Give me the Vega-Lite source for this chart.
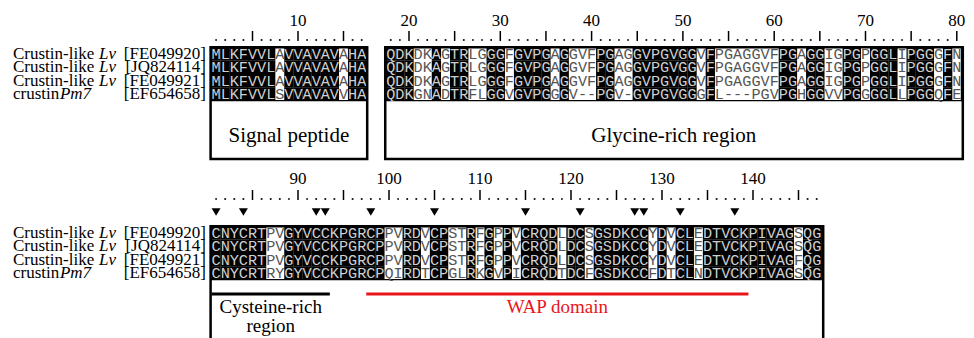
{
"$schema":"https://vega.github.io/schema/vega-lite/v6.json",
"width":974,"height":338,"padding":0,"autosize":{"type":"none"},"background":"white",
"config":{"view":{"stroke":null},"axis":{"disable":true},"legend":{"disable":true}},
"datasets":{
"seqs":[{"s":1,"name":"Crustin-like","sp":"Lv","acc":"[FE049920]"},{"s":2,"name":"Crustin-like","sp":"Lv","acc":"[JQ824114]"},{"s":3,"name":"Crustin-like","sp":"Lv","acc":"[FE049921]"},{"s":4,"name":"crustin","sp":"Pm7","acc":"[EF654658]"}],
"regions":[{"name":"Signal peptide","kind":"box","start":1,"end":17},{"name":"Glycine-rich region","kind":"box","start":18,"end":80},{"name":"","kind":"frame","start":81,"end":147},{"name":"Cysteine-rich region","kind":"domain","start":81,"end":93},{"name":"WAP domain","kind":"domain","start":98,"end":139}],
"cells":[
{"s":1,"p":1,"a":"M"},{"s":1,"p":2,"a":"L"},{"s":1,"p":3,"a":"K"},{"s":1,"p":4,"a":"F"},{"s":1,"p":5,"a":"V"},{"s":1,"p":6,"a":"V"},{"s":1,"p":7,"a":"L"},{"s":1,"p":8,"a":"A"},{"s":1,"p":9,"a":"V"},{"s":1,"p":10,"a":"V"},
{"s":1,"p":11,"a":"A"},{"s":1,"p":12,"a":"V"},{"s":1,"p":13,"a":"A"},{"s":1,"p":14,"a":"V"},{"s":1,"p":15,"a":"A"},{"s":1,"p":16,"a":"H"},{"s":1,"p":17,"a":"A"},{"s":1,"p":18,"a":"Q"},{"s":1,"p":19,"a":"D"},{"s":1,"p":20,"a":"K"},
{"s":1,"p":21,"a":"D"},{"s":1,"p":22,"a":"K"},{"s":1,"p":23,"a":"A"},{"s":1,"p":24,"a":"G"},{"s":1,"p":25,"a":"T"},{"s":1,"p":26,"a":"R"},{"s":1,"p":27,"a":"L"},{"s":1,"p":28,"a":"G"},{"s":1,"p":29,"a":"G"},{"s":1,"p":30,"a":"G"},
{"s":1,"p":31,"a":"F"},{"s":1,"p":32,"a":"G"},{"s":1,"p":33,"a":"V"},{"s":1,"p":34,"a":"P"},{"s":1,"p":35,"a":"G"},{"s":1,"p":36,"a":"A"},{"s":1,"p":37,"a":"G"},{"s":1,"p":38,"a":"G"},{"s":1,"p":39,"a":"V"},{"s":1,"p":40,"a":"F"},
{"s":1,"p":41,"a":"P"},{"s":1,"p":42,"a":"G"},{"s":1,"p":43,"a":"A"},{"s":1,"p":44,"a":"G"},{"s":1,"p":45,"a":"G"},{"s":1,"p":46,"a":"V"},{"s":1,"p":47,"a":"P"},{"s":1,"p":48,"a":"G"},{"s":1,"p":49,"a":"V"},{"s":1,"p":50,"a":"G"},
{"s":1,"p":51,"a":"G"},{"s":1,"p":52,"a":"V"},{"s":1,"p":53,"a":"F"},{"s":1,"p":54,"a":"P"},{"s":1,"p":55,"a":"G"},{"s":1,"p":56,"a":"A"},{"s":1,"p":57,"a":"G"},{"s":1,"p":58,"a":"G"},{"s":1,"p":59,"a":"V"},{"s":1,"p":60,"a":"F"},
{"s":1,"p":61,"a":"P"},{"s":1,"p":62,"a":"G"},{"s":1,"p":63,"a":"A"},{"s":1,"p":64,"a":"G"},{"s":1,"p":65,"a":"G"},{"s":1,"p":66,"a":"I"},{"s":1,"p":67,"a":"G"},{"s":1,"p":68,"a":"P"},{"s":1,"p":69,"a":"G"},{"s":1,"p":70,"a":"P"},
{"s":1,"p":71,"a":"G"},{"s":1,"p":72,"a":"G"},{"s":1,"p":73,"a":"L"},{"s":1,"p":74,"a":"I"},{"s":1,"p":75,"a":"P"},{"s":1,"p":76,"a":"G"},{"s":1,"p":77,"a":"G"},{"s":1,"p":78,"a":"G"},{"s":1,"p":79,"a":"F"},{"s":1,"p":80,"a":"N"},
{"s":2,"p":1,"a":"M"},{"s":2,"p":2,"a":"L"},{"s":2,"p":3,"a":"K"},{"s":2,"p":4,"a":"F"},{"s":2,"p":5,"a":"V"},{"s":2,"p":6,"a":"V"},{"s":2,"p":7,"a":"L"},{"s":2,"p":8,"a":"A"},{"s":2,"p":9,"a":"V"},{"s":2,"p":10,"a":"V"},
{"s":2,"p":11,"a":"A"},{"s":2,"p":12,"a":"V"},{"s":2,"p":13,"a":"A"},{"s":2,"p":14,"a":"V"},{"s":2,"p":15,"a":"A"},{"s":2,"p":16,"a":"H"},{"s":2,"p":17,"a":"A"},{"s":2,"p":18,"a":"Q"},{"s":2,"p":19,"a":"D"},{"s":2,"p":20,"a":"K"},
{"s":2,"p":21,"a":"D"},{"s":2,"p":22,"a":"K"},{"s":2,"p":23,"a":"A"},{"s":2,"p":24,"a":"G"},{"s":2,"p":25,"a":"T"},{"s":2,"p":26,"a":"R"},{"s":2,"p":27,"a":"L"},{"s":2,"p":28,"a":"G"},{"s":2,"p":29,"a":"G"},{"s":2,"p":30,"a":"G"},
{"s":2,"p":31,"a":"F"},{"s":2,"p":32,"a":"G"},{"s":2,"p":33,"a":"V"},{"s":2,"p":34,"a":"P"},{"s":2,"p":35,"a":"G"},{"s":2,"p":36,"a":"A"},{"s":2,"p":37,"a":"G"},{"s":2,"p":38,"a":"G"},{"s":2,"p":39,"a":"V"},{"s":2,"p":40,"a":"F"},
{"s":2,"p":41,"a":"P"},{"s":2,"p":42,"a":"G"},{"s":2,"p":43,"a":"A"},{"s":2,"p":44,"a":"G"},{"s":2,"p":45,"a":"G"},{"s":2,"p":46,"a":"V"},{"s":2,"p":47,"a":"P"},{"s":2,"p":48,"a":"G"},{"s":2,"p":49,"a":"V"},{"s":2,"p":50,"a":"G"},
{"s":2,"p":51,"a":"G"},{"s":2,"p":52,"a":"V"},{"s":2,"p":53,"a":"F"},{"s":2,"p":54,"a":"P"},{"s":2,"p":55,"a":"G"},{"s":2,"p":56,"a":"A"},{"s":2,"p":57,"a":"G"},{"s":2,"p":58,"a":"G"},{"s":2,"p":59,"a":"V"},{"s":2,"p":60,"a":"F"},
{"s":2,"p":61,"a":"P"},{"s":2,"p":62,"a":"G"},{"s":2,"p":63,"a":"A"},{"s":2,"p":64,"a":"G"},{"s":2,"p":65,"a":"G"},{"s":2,"p":66,"a":"I"},{"s":2,"p":67,"a":"G"},{"s":2,"p":68,"a":"P"},{"s":2,"p":69,"a":"G"},{"s":2,"p":70,"a":"P"},
{"s":2,"p":71,"a":"G"},{"s":2,"p":72,"a":"G"},{"s":2,"p":73,"a":"L"},{"s":2,"p":74,"a":"I"},{"s":2,"p":75,"a":"P"},{"s":2,"p":76,"a":"G"},{"s":2,"p":77,"a":"G"},{"s":2,"p":78,"a":"G"},{"s":2,"p":79,"a":"F"},{"s":2,"p":80,"a":"N"},
{"s":3,"p":1,"a":"M"},{"s":3,"p":2,"a":"L"},{"s":3,"p":3,"a":"K"},{"s":3,"p":4,"a":"F"},{"s":3,"p":5,"a":"V"},{"s":3,"p":6,"a":"V"},{"s":3,"p":7,"a":"L"},{"s":3,"p":8,"a":"A"},{"s":3,"p":9,"a":"V"},{"s":3,"p":10,"a":"V"},
{"s":3,"p":11,"a":"A"},{"s":3,"p":12,"a":"V"},{"s":3,"p":13,"a":"A"},{"s":3,"p":14,"a":"V"},{"s":3,"p":15,"a":"A"},{"s":3,"p":16,"a":"H"},{"s":3,"p":17,"a":"A"},{"s":3,"p":18,"a":"Q"},{"s":3,"p":19,"a":"D"},{"s":3,"p":20,"a":"K"},
{"s":3,"p":21,"a":"D"},{"s":3,"p":22,"a":"K"},{"s":3,"p":23,"a":"A"},{"s":3,"p":24,"a":"G"},{"s":3,"p":25,"a":"T"},{"s":3,"p":26,"a":"R"},{"s":3,"p":27,"a":"L"},{"s":3,"p":28,"a":"G"},{"s":3,"p":29,"a":"G"},{"s":3,"p":30,"a":"G"},
{"s":3,"p":31,"a":"F"},{"s":3,"p":32,"a":"G"},{"s":3,"p":33,"a":"V"},{"s":3,"p":34,"a":"P"},{"s":3,"p":35,"a":"G"},{"s":3,"p":36,"a":"A"},{"s":3,"p":37,"a":"G"},{"s":3,"p":38,"a":"G"},{"s":3,"p":39,"a":"V"},{"s":3,"p":40,"a":"F"},
{"s":3,"p":41,"a":"P"},{"s":3,"p":42,"a":"G"},{"s":3,"p":43,"a":"A"},{"s":3,"p":44,"a":"G"},{"s":3,"p":45,"a":"G"},{"s":3,"p":46,"a":"V"},{"s":3,"p":47,"a":"P"},{"s":3,"p":48,"a":"G"},{"s":3,"p":49,"a":"V"},{"s":3,"p":50,"a":"G"},
{"s":3,"p":51,"a":"G"},{"s":3,"p":52,"a":"V"},{"s":3,"p":53,"a":"F"},{"s":3,"p":54,"a":"P"},{"s":3,"p":55,"a":"G"},{"s":3,"p":56,"a":"A"},{"s":3,"p":57,"a":"G"},{"s":3,"p":58,"a":"G"},{"s":3,"p":59,"a":"V"},{"s":3,"p":60,"a":"F"},
{"s":3,"p":61,"a":"P"},{"s":3,"p":62,"a":"G"},{"s":3,"p":63,"a":"A"},{"s":3,"p":64,"a":"G"},{"s":3,"p":65,"a":"G"},{"s":3,"p":66,"a":"I"},{"s":3,"p":67,"a":"G"},{"s":3,"p":68,"a":"P"},{"s":3,"p":69,"a":"G"},{"s":3,"p":70,"a":"P"},
{"s":3,"p":71,"a":"G"},{"s":3,"p":72,"a":"G"},{"s":3,"p":73,"a":"L"},{"s":3,"p":74,"a":"I"},{"s":3,"p":75,"a":"P"},{"s":3,"p":76,"a":"G"},{"s":3,"p":77,"a":"G"},{"s":3,"p":78,"a":"G"},{"s":3,"p":79,"a":"F"},{"s":3,"p":80,"a":"N"},
{"s":4,"p":1,"a":"M"},{"s":4,"p":2,"a":"L"},{"s":4,"p":3,"a":"K"},{"s":4,"p":4,"a":"F"},{"s":4,"p":5,"a":"V"},{"s":4,"p":6,"a":"V"},{"s":4,"p":7,"a":"L"},{"s":4,"p":8,"a":"S"},{"s":4,"p":9,"a":"V"},{"s":4,"p":10,"a":"V"},
{"s":4,"p":11,"a":"A"},{"s":4,"p":12,"a":"V"},{"s":4,"p":13,"a":"A"},{"s":4,"p":14,"a":"V"},{"s":4,"p":15,"a":"V"},{"s":4,"p":16,"a":"H"},{"s":4,"p":17,"a":"A"},{"s":4,"p":18,"a":"Q"},{"s":4,"p":19,"a":"D"},{"s":4,"p":20,"a":"K"},
{"s":4,"p":21,"a":"G"},{"s":4,"p":22,"a":"N"},{"s":4,"p":23,"a":"A"},{"s":4,"p":24,"a":"D"},{"s":4,"p":25,"a":"T"},{"s":4,"p":26,"a":"R"},{"s":4,"p":27,"a":"F"},{"s":4,"p":28,"a":"L"},{"s":4,"p":29,"a":"G"},{"s":4,"p":30,"a":"G"},
{"s":4,"p":31,"a":"V"},{"s":4,"p":32,"a":"G"},{"s":4,"p":33,"a":"V"},{"s":4,"p":34,"a":"P"},{"s":4,"p":35,"a":"G"},{"s":4,"p":36,"a":"G"},{"s":4,"p":37,"a":"G"},{"s":4,"p":38,"a":"V"},{"s":4,"p":39,"a":"-"},{"s":4,"p":40,"a":"-"},
{"s":4,"p":41,"a":"P"},{"s":4,"p":42,"a":"G"},{"s":4,"p":43,"a":"V"},{"s":4,"p":44,"a":"-"},{"s":4,"p":45,"a":"G"},{"s":4,"p":46,"a":"V"},{"s":4,"p":47,"a":"P"},{"s":4,"p":48,"a":"G"},{"s":4,"p":49,"a":"V"},{"s":4,"p":50,"a":"G"},
{"s":4,"p":51,"a":"G"},{"s":4,"p":52,"a":"G"},{"s":4,"p":53,"a":"F"},{"s":4,"p":54,"a":"L"},{"s":4,"p":55,"a":"-"},{"s":4,"p":56,"a":"-"},{"s":4,"p":57,"a":"-"},{"s":4,"p":58,"a":"P"},{"s":4,"p":59,"a":"G"},{"s":4,"p":60,"a":"V"},
{"s":4,"p":61,"a":"P"},{"s":4,"p":62,"a":"G"},{"s":4,"p":63,"a":"H"},{"s":4,"p":64,"a":"G"},{"s":4,"p":65,"a":"G"},{"s":4,"p":66,"a":"V"},{"s":4,"p":67,"a":"V"},{"s":4,"p":68,"a":"P"},{"s":4,"p":69,"a":"G"},{"s":4,"p":70,"a":"G"},
{"s":4,"p":71,"a":"G"},{"s":4,"p":72,"a":"G"},{"s":4,"p":73,"a":"L"},{"s":4,"p":74,"a":"L"},{"s":4,"p":75,"a":"P"},{"s":4,"p":76,"a":"G"},{"s":4,"p":77,"a":"G"},{"s":4,"p":78,"a":"Q"},{"s":4,"p":79,"a":"F"},{"s":4,"p":80,"a":"E"},
{"s":1,"p":81,"a":"C"},{"s":1,"p":82,"a":"N"},{"s":1,"p":83,"a":"Y"},{"s":1,"p":84,"a":"C"},{"s":1,"p":85,"a":"R"},{"s":1,"p":86,"a":"T"},{"s":1,"p":87,"a":"P"},{"s":1,"p":88,"a":"V"},{"s":1,"p":89,"a":"G"},{"s":1,"p":90,"a":"Y"},
{"s":1,"p":91,"a":"V"},{"s":1,"p":92,"a":"C"},{"s":1,"p":93,"a":"C"},{"s":1,"p":94,"a":"K"},{"s":1,"p":95,"a":"P"},{"s":1,"p":96,"a":"G"},{"s":1,"p":97,"a":"R"},{"s":1,"p":98,"a":"C"},{"s":1,"p":99,"a":"P"},{"s":1,"p":100,"a":"P"},
{"s":1,"p":101,"a":"V"},{"s":1,"p":102,"a":"R"},{"s":1,"p":103,"a":"D"},{"s":1,"p":104,"a":"V"},{"s":1,"p":105,"a":"C"},{"s":1,"p":106,"a":"P"},{"s":1,"p":107,"a":"S"},{"s":1,"p":108,"a":"T"},{"s":1,"p":109,"a":"R"},{"s":1,"p":110,"a":"F"},
{"s":1,"p":111,"a":"G"},{"s":1,"p":112,"a":"P"},{"s":1,"p":113,"a":"P"},{"s":1,"p":114,"a":"V"},{"s":1,"p":115,"a":"C"},{"s":1,"p":116,"a":"R"},{"s":1,"p":117,"a":"Q"},{"s":1,"p":118,"a":"D"},{"s":1,"p":119,"a":"L"},{"s":1,"p":120,"a":"D"},
{"s":1,"p":121,"a":"C"},{"s":1,"p":122,"a":"S"},{"s":1,"p":123,"a":"G"},{"s":1,"p":124,"a":"S"},{"s":1,"p":125,"a":"D"},{"s":1,"p":126,"a":"K"},{"s":1,"p":127,"a":"C"},{"s":1,"p":128,"a":"C"},{"s":1,"p":129,"a":"Y"},{"s":1,"p":130,"a":"D"},
{"s":1,"p":131,"a":"V"},{"s":1,"p":132,"a":"C"},{"s":1,"p":133,"a":"L"},{"s":1,"p":134,"a":"E"},{"s":1,"p":135,"a":"D"},{"s":1,"p":136,"a":"T"},{"s":1,"p":137,"a":"V"},{"s":1,"p":138,"a":"C"},{"s":1,"p":139,"a":"K"},{"s":1,"p":140,"a":"P"},
{"s":1,"p":141,"a":"I"},{"s":1,"p":142,"a":"V"},{"s":1,"p":143,"a":"A"},{"s":1,"p":144,"a":"G"},{"s":1,"p":145,"a":"S"},{"s":1,"p":146,"a":"Q"},{"s":1,"p":147,"a":"G"},
{"s":2,"p":81,"a":"C"},{"s":2,"p":82,"a":"N"},{"s":2,"p":83,"a":"Y"},{"s":2,"p":84,"a":"C"},{"s":2,"p":85,"a":"R"},{"s":2,"p":86,"a":"T"},{"s":2,"p":87,"a":"P"},{"s":2,"p":88,"a":"V"},{"s":2,"p":89,"a":"G"},{"s":2,"p":90,"a":"Y"},
{"s":2,"p":91,"a":"V"},{"s":2,"p":92,"a":"C"},{"s":2,"p":93,"a":"C"},{"s":2,"p":94,"a":"K"},{"s":2,"p":95,"a":"P"},{"s":2,"p":96,"a":"G"},{"s":2,"p":97,"a":"R"},{"s":2,"p":98,"a":"C"},{"s":2,"p":99,"a":"P"},{"s":2,"p":100,"a":"P"},
{"s":2,"p":101,"a":"V"},{"s":2,"p":102,"a":"R"},{"s":2,"p":103,"a":"D"},{"s":2,"p":104,"a":"V"},{"s":2,"p":105,"a":"C"},{"s":2,"p":106,"a":"P"},{"s":2,"p":107,"a":"S"},{"s":2,"p":108,"a":"T"},{"s":2,"p":109,"a":"R"},{"s":2,"p":110,"a":"F"},
{"s":2,"p":111,"a":"G"},{"s":2,"p":112,"a":"P"},{"s":2,"p":113,"a":"P"},{"s":2,"p":114,"a":"V"},{"s":2,"p":115,"a":"C"},{"s":2,"p":116,"a":"R"},{"s":2,"p":117,"a":"Q"},{"s":2,"p":118,"a":"D"},{"s":2,"p":119,"a":"L"},{"s":2,"p":120,"a":"D"},
{"s":2,"p":121,"a":"C"},{"s":2,"p":122,"a":"S"},{"s":2,"p":123,"a":"G"},{"s":2,"p":124,"a":"S"},{"s":2,"p":125,"a":"D"},{"s":2,"p":126,"a":"K"},{"s":2,"p":127,"a":"C"},{"s":2,"p":128,"a":"C"},{"s":2,"p":129,"a":"Y"},{"s":2,"p":130,"a":"D"},
{"s":2,"p":131,"a":"V"},{"s":2,"p":132,"a":"C"},{"s":2,"p":133,"a":"L"},{"s":2,"p":134,"a":"E"},{"s":2,"p":135,"a":"D"},{"s":2,"p":136,"a":"T"},{"s":2,"p":137,"a":"V"},{"s":2,"p":138,"a":"C"},{"s":2,"p":139,"a":"K"},{"s":2,"p":140,"a":"P"},
{"s":2,"p":141,"a":"I"},{"s":2,"p":142,"a":"V"},{"s":2,"p":143,"a":"A"},{"s":2,"p":144,"a":"G"},{"s":2,"p":145,"a":"S"},{"s":2,"p":146,"a":"Q"},{"s":2,"p":147,"a":"G"},
{"s":3,"p":81,"a":"C"},{"s":3,"p":82,"a":"N"},{"s":3,"p":83,"a":"Y"},{"s":3,"p":84,"a":"C"},{"s":3,"p":85,"a":"R"},{"s":3,"p":86,"a":"T"},{"s":3,"p":87,"a":"P"},{"s":3,"p":88,"a":"V"},{"s":3,"p":89,"a":"G"},{"s":3,"p":90,"a":"Y"},
{"s":3,"p":91,"a":"V"},{"s":3,"p":92,"a":"C"},{"s":3,"p":93,"a":"C"},{"s":3,"p":94,"a":"K"},{"s":3,"p":95,"a":"P"},{"s":3,"p":96,"a":"G"},{"s":3,"p":97,"a":"R"},{"s":3,"p":98,"a":"C"},{"s":3,"p":99,"a":"P"},{"s":3,"p":100,"a":"P"},
{"s":3,"p":101,"a":"V"},{"s":3,"p":102,"a":"R"},{"s":3,"p":103,"a":"D"},{"s":3,"p":104,"a":"V"},{"s":3,"p":105,"a":"C"},{"s":3,"p":106,"a":"P"},{"s":3,"p":107,"a":"S"},{"s":3,"p":108,"a":"T"},{"s":3,"p":109,"a":"R"},{"s":3,"p":110,"a":"F"},
{"s":3,"p":111,"a":"G"},{"s":3,"p":112,"a":"P"},{"s":3,"p":113,"a":"P"},{"s":3,"p":114,"a":"V"},{"s":3,"p":115,"a":"C"},{"s":3,"p":116,"a":"R"},{"s":3,"p":117,"a":"Q"},{"s":3,"p":118,"a":"D"},{"s":3,"p":119,"a":"L"},{"s":3,"p":120,"a":"D"},
{"s":3,"p":121,"a":"C"},{"s":3,"p":122,"a":"S"},{"s":3,"p":123,"a":"G"},{"s":3,"p":124,"a":"S"},{"s":3,"p":125,"a":"D"},{"s":3,"p":126,"a":"K"},{"s":3,"p":127,"a":"C"},{"s":3,"p":128,"a":"C"},{"s":3,"p":129,"a":"Y"},{"s":3,"p":130,"a":"D"},
{"s":3,"p":131,"a":"V"},{"s":3,"p":132,"a":"C"},{"s":3,"p":133,"a":"L"},{"s":3,"p":134,"a":"E"},{"s":3,"p":135,"a":"D"},{"s":3,"p":136,"a":"T"},{"s":3,"p":137,"a":"V"},{"s":3,"p":138,"a":"C"},{"s":3,"p":139,"a":"K"},{"s":3,"p":140,"a":"P"},
{"s":3,"p":141,"a":"I"},{"s":3,"p":142,"a":"V"},{"s":3,"p":143,"a":"A"},{"s":3,"p":144,"a":"G"},{"s":3,"p":145,"a":"F"},{"s":3,"p":146,"a":"Q"},{"s":3,"p":147,"a":"G"},
{"s":4,"p":81,"a":"C"},{"s":4,"p":82,"a":"N"},{"s":4,"p":83,"a":"Y"},{"s":4,"p":84,"a":"C"},{"s":4,"p":85,"a":"R"},{"s":4,"p":86,"a":"T"},{"s":4,"p":87,"a":"R"},{"s":4,"p":88,"a":"Y"},{"s":4,"p":89,"a":"G"},{"s":4,"p":90,"a":"Y"},
{"s":4,"p":91,"a":"V"},{"s":4,"p":92,"a":"C"},{"s":4,"p":93,"a":"C"},{"s":4,"p":94,"a":"K"},{"s":4,"p":95,"a":"P"},{"s":4,"p":96,"a":"G"},{"s":4,"p":97,"a":"R"},{"s":4,"p":98,"a":"C"},{"s":4,"p":99,"a":"P"},{"s":4,"p":100,"a":"Q"},
{"s":4,"p":101,"a":"I"},{"s":4,"p":102,"a":"R"},{"s":4,"p":103,"a":"D"},{"s":4,"p":104,"a":"T"},{"s":4,"p":105,"a":"C"},{"s":4,"p":106,"a":"P"},{"s":4,"p":107,"a":"G"},{"s":4,"p":108,"a":"L"},{"s":4,"p":109,"a":"R"},{"s":4,"p":110,"a":"K"},
{"s":4,"p":111,"a":"G"},{"s":4,"p":112,"a":"V"},{"s":4,"p":113,"a":"P"},{"s":4,"p":114,"a":"I"},{"s":4,"p":115,"a":"C"},{"s":4,"p":116,"a":"R"},{"s":4,"p":117,"a":"Q"},{"s":4,"p":118,"a":"D"},{"s":4,"p":119,"a":"T"},{"s":4,"p":120,"a":"D"},
{"s":4,"p":121,"a":"C"},{"s":4,"p":122,"a":"F"},{"s":4,"p":123,"a":"G"},{"s":4,"p":124,"a":"S"},{"s":4,"p":125,"a":"D"},{"s":4,"p":126,"a":"K"},{"s":4,"p":127,"a":"C"},{"s":4,"p":128,"a":"C"},{"s":4,"p":129,"a":"F"},{"s":4,"p":130,"a":"D"},
{"s":4,"p":131,"a":"T"},{"s":4,"p":132,"a":"C"},{"s":4,"p":133,"a":"L"},{"s":4,"p":134,"a":"N"},{"s":4,"p":135,"a":"D"},{"s":4,"p":136,"a":"T"},{"s":4,"p":137,"a":"V"},{"s":4,"p":138,"a":"C"},{"s":4,"p":139,"a":"K"},{"s":4,"p":140,"a":"P"},
{"s":4,"p":141,"a":"I"},{"s":4,"p":142,"a":"V"},{"s":4,"p":143,"a":"A"},{"s":4,"p":144,"a":"G"},{"s":4,"p":145,"a":"S"},{"s":4,"p":146,"a":"Q"},{"s":4,"p":147,"a":"G"}
]},
"resolve":{"scale":{"x":"independent","y":"independent"}},
"layer":[
{"resolve":{"scale":{"x":"independent"}},
 "layer":[
 {"layer":[
  {"data":{"name":"cells"},"transform":[{"joinaggregate":[{"op":"distinct","field":"a","as":"nd"}],"groupby":["p"]},{"filter":"datum.p <= 17 && datum.nd == 1"}],
   "mark":{"type":"rect","fill":"black","xOffset":-4.65,"x2Offset":4.65,"yOffset":-6.7,"y2Offset":6.7},
   "encoding":{"x":{"field":"p","type":"quantitative","scale":{"domain":[-22.747,84.286],"nice":false,"zero":false}},"x2":{"field":"p"},"y":{"field":"s","type":"quantitative","scale":{"domain":[-3.0602,22.3534],"reverse":true,"nice":false,"zero":false}},"y2":{"field":"s"}}},
  {"data":{"name":"cells"},"transform":[{"filter":"datum.p <= 17"}],
   "mark":{"type":"rect","filled":false,"stroke":"black","strokeWidth":1.2,"xOffset":-4.6,"x2Offset":4.6,"yOffset":-6.65,"y2Offset":6.65},
   "encoding":{"x":{"aggregate":"min","field":"p","type":"quantitative","scale":{"domain":[-22.747,84.286],"nice":false,"zero":false}},"x2":{"aggregate":"max","field":"p"},"y":{"aggregate":"min","field":"s","type":"quantitative","scale":{"domain":[-3.0602,22.3534],"reverse":true,"nice":false,"zero":false}},"y2":{"aggregate":"max","field":"s"}}},
  {"data":{"name":"cells"},"transform":[{"joinaggregate":[{"op":"distinct","field":"a","as":"nd"}],"groupby":["p"]},{"filter":"datum.p <= 17"}],
   "mark":{"type":"text","font":"Liberation Mono","fontSize":15.2,"baseline":"middle","align":"center"},
   "encoding":{"x":{"field":"p","type":"quantitative","scale":{"domain":[-22.747,84.286],"nice":false,"zero":false}},"y":{"field":"s","type":"quantitative","scale":{"domain":[-3.0602,22.3534],"reverse":true,"nice":false,"zero":false}},"text":{"field":"a"},"color":{"condition":{"test":"datum.nd == 1","value":"#cfcfcf"},"value":"#555555"}}},
  {"data":{"name":"cells"},"transform":[{"filter":"datum.s == 1 && datum.p <= 17 && datum.p % 5 != 0"}],
   "mark":{"type":"point","shape":"square","filled":true,"color":"black","opacity":1,"size":3},
   "encoding":{"x":{"field":"p","type":"quantitative","scale":{"domain":[-22.747,84.286],"nice":false,"zero":false}},"y":{"datum":-0.0526,"type":"quantitative","scale":{"domain":[-3.0602,22.3534],"reverse":true,"nice":false,"zero":false}}}},
  {"data":{"name":"cells"},"transform":[{"filter":"datum.s == 1 && datum.p <= 17 && datum.p % 5 == 0"}],
   "mark":{"type":"rule","color":"black","strokeWidth":1.5},
   "encoding":{"x":{"field":"p","type":"quantitative","scale":{"domain":[-22.747,84.286],"nice":false,"zero":false}},"y":{"datum":-0.7293,"type":"quantitative","scale":{"domain":[-3.0602,22.3534],"reverse":true,"nice":false,"zero":false}},"y2":{"datum":0.0226}}},
  {"data":{"name":"cells"},"transform":[{"filter":"datum.s == 1 && datum.p <= 17 && datum.p % 10 == 0"}],
   "mark":{"type":"text","font":"Liberation Serif","fontSize":17,"baseline":"middle","align":"center","color":"black"},
   "encoding":{"x":{"field":"p","type":"quantitative","scale":{"domain":[-22.747,84.286],"nice":false,"zero":false}},"y":{"datum":-1.4812,"type":"quantitative","scale":{"domain":[-3.0602,22.3534],"reverse":true,"nice":false,"zero":false}},"text":{"field":"p","type":"quantitative","format":"d"}}},
  {"data":{"name":"regions"},"transform":[{"filter":"datum.kind == 'box' && datum.end <= 17"}],
   "mark":{"type":"rect","filled":false,"stroke":"black","strokeWidth":2.5,"xOffset":-5.5,"x2Offset":5.5,"yOffset":-6.65},
   "encoding":{"x":{"field":"start","type":"quantitative","scale":{"domain":[-22.747,84.286],"nice":false,"zero":false}},"x2":{"field":"end"},"y":{"datum":1,"type":"quantitative","scale":{"domain":[-3.0602,22.3534],"reverse":true,"nice":false,"zero":false}},"y2":{"datum":8.8947}}},
  {"data":{"name":"regions"},"transform":[{"filter":"datum.kind == 'box' && datum.end <= 17"},{"fold":["start","end"],"as":["k","v"]}],
   "mark":{"type":"text","font":"Liberation Serif","fontSize":21,"baseline":"middle","align":"center","color":"black"},
   "encoding":{"x":{"aggregate":"mean","field":"v","type":"quantitative","scale":{"domain":[-22.747,84.286],"nice":false,"zero":false}},"y":{"datum":7.1654,"type":"quantitative","scale":{"domain":[-3.0602,22.3534],"reverse":true,"nice":false,"zero":false}},"text":{"field":"name","type":"nominal"}}},
  {"data":{"name":"seqs"},
   "mark":{"type":"text","font":"Liberation Serif","fontSize":17,"baseline":"middle","align":"left","color":"black"},
   "encoding":{"x":{"datum":-21.319,"type":"quantitative","scale":{"domain":[-22.747,84.286],"nice":false,"zero":false}},"y":{"field":"s","type":"quantitative","scale":{"domain":[-3.0602,22.3534],"reverse":true,"nice":false,"zero":false}},"text":{"field":"name"}}},
  {"data":{"name":"seqs"},"transform":[{"filter":"datum.sp == 'Lv'"}],
   "mark":{"type":"text","font":"Liberation Serif","fontSize":17,"fontStyle":"italic","baseline":"middle","align":"left","color":"black"},
   "encoding":{"x":{"datum":-11.868,"type":"quantitative","scale":{"domain":[-22.747,84.286],"nice":false,"zero":false}},"y":{"field":"s","type":"quantitative","scale":{"domain":[-3.0602,22.3534],"reverse":true,"nice":false,"zero":false}},"text":{"field":"sp"}}},
  {"data":{"name":"seqs"},"transform":[{"filter":"datum.sp == 'Pm7'"}],
   "mark":{"type":"text","font":"Liberation Serif","fontSize":17,"fontStyle":"italic","baseline":"middle","align":"left","color":"black"},
   "encoding":{"x":{"datum":-16.165,"type":"quantitative","scale":{"domain":[-22.747,84.286],"nice":false,"zero":false}},"y":{"field":"s","type":"quantitative","scale":{"domain":[-3.0602,22.3534],"reverse":true,"nice":false,"zero":false}},"text":{"field":"sp"}}},
  {"data":{"name":"seqs"},
   "mark":{"type":"text","font":"Liberation Serif","fontSize":17,"baseline":"middle","align":"right","color":"black"},
   "encoding":{"x":{"datum":-0.11,"type":"quantitative","scale":{"domain":[-22.747,84.286],"nice":false,"zero":false}},"y":{"field":"s","type":"quantitative","scale":{"domain":[-3.0602,22.3534],"reverse":true,"nice":false,"zero":false}},"text":{"field":"acc"}}}
 ]},
 {"layer":[
  {"data":{"name":"cells"},"transform":[{"joinaggregate":[{"op":"distinct","field":"a","as":"nd"}],"groupby":["p"]},{"filter":"datum.p >= 18 && datum.p <= 80 && datum.nd == 1"}],
   "mark":{"type":"rect","fill":"black","xOffset":-4.65,"x2Offset":4.65,"yOffset":-6.7,"y2Offset":6.7},
   "encoding":{"x":{"field":"p","type":"quantitative","scale":{"domain":[-24.797,81.884],"nice":false,"zero":false}},"x2":{"field":"p"},"y":{"field":"s","type":"quantitative","scale":{"domain":[-3.0602,22.3534],"reverse":true,"nice":false,"zero":false}},"y2":{"field":"s"}}},
  {"data":{"name":"cells"},"transform":[{"filter":"datum.p >= 18 && datum.p <= 80"}],
   "mark":{"type":"rect","filled":false,"stroke":"black","strokeWidth":1.2,"xOffset":-4.6,"x2Offset":4.6,"yOffset":-6.65,"y2Offset":6.65},
   "encoding":{"x":{"aggregate":"min","field":"p","type":"quantitative","scale":{"domain":[-24.797,81.884],"nice":false,"zero":false}},"x2":{"aggregate":"max","field":"p"},"y":{"aggregate":"min","field":"s","type":"quantitative","scale":{"domain":[-3.0602,22.3534],"reverse":true,"nice":false,"zero":false}},"y2":{"aggregate":"max","field":"s"}}},
  {"data":{"name":"cells"},"transform":[{"joinaggregate":[{"op":"distinct","field":"a","as":"nd"}],"groupby":["p"]},{"filter":"datum.p >= 18 && datum.p <= 80"}],
   "mark":{"type":"text","font":"Liberation Mono","fontSize":15.2,"baseline":"middle","align":"center"},
   "encoding":{"x":{"field":"p","type":"quantitative","scale":{"domain":[-24.797,81.884],"nice":false,"zero":false}},"y":{"field":"s","type":"quantitative","scale":{"domain":[-3.0602,22.3534],"reverse":true,"nice":false,"zero":false}},"text":{"field":"a"},"color":{"condition":{"test":"datum.nd == 1","value":"#cfcfcf"},"value":"#555555"}}},
  {"data":{"name":"cells"},"transform":[{"filter":"datum.s == 1 && datum.p >= 18 && datum.p <= 80 && datum.p % 5 != 0"}],
   "mark":{"type":"point","shape":"square","filled":true,"color":"black","opacity":1,"size":3},
   "encoding":{"x":{"field":"p","type":"quantitative","scale":{"domain":[-24.797,81.884],"nice":false,"zero":false}},"y":{"datum":-0.0526,"type":"quantitative","scale":{"domain":[-3.0602,22.3534],"reverse":true,"nice":false,"zero":false}}}},
  {"data":{"name":"cells"},"transform":[{"filter":"datum.s == 1 && datum.p >= 18 && datum.p <= 80 && datum.p % 5 == 0"}],
   "mark":{"type":"rule","color":"black","strokeWidth":1.5},
   "encoding":{"x":{"field":"p","type":"quantitative","scale":{"domain":[-24.797,81.884],"nice":false,"zero":false}},"y":{"datum":-0.7293,"type":"quantitative","scale":{"domain":[-3.0602,22.3534],"reverse":true,"nice":false,"zero":false}},"y2":{"datum":0.0226}}},
  {"data":{"name":"cells"},"transform":[{"filter":"datum.s == 1 && datum.p >= 18 && datum.p <= 80 && datum.p % 10 == 0"}],
   "mark":{"type":"text","font":"Liberation Serif","fontSize":17,"baseline":"middle","align":"center","color":"black"},
   "encoding":{"x":{"field":"p","type":"quantitative","scale":{"domain":[-24.797,81.884],"nice":false,"zero":false}},"y":{"datum":-1.4812,"type":"quantitative","scale":{"domain":[-3.0602,22.3534],"reverse":true,"nice":false,"zero":false}},"text":{"field":"p","type":"quantitative","format":"d"}}},
  {"data":{"name":"regions"},"transform":[{"filter":"datum.kind == 'box' && datum.start >= 18 && datum.end <= 80"}],
   "mark":{"type":"rect","filled":false,"stroke":"black","strokeWidth":2.5,"xOffset":-5.5,"x2Offset":6,"yOffset":-6.65},
   "encoding":{"x":{"field":"start","type":"quantitative","scale":{"domain":[-24.797,81.884],"nice":false,"zero":false}},"x2":{"field":"end"},"y":{"datum":1,"type":"quantitative","scale":{"domain":[-3.0602,22.3534],"reverse":true,"nice":false,"zero":false}},"y2":{"datum":8.8947}}},
  {"data":{"name":"regions"},"transform":[{"filter":"datum.kind == 'box' && datum.start >= 18 && datum.end <= 80"},{"fold":["start","end"],"as":["k","v"]}],
   "mark":{"type":"text","font":"Liberation Serif","fontSize":21,"baseline":"middle","align":"center","color":"black"},
   "encoding":{"x":{"aggregate":"mean","field":"v","type":"quantitative","scale":{"domain":[-24.797,81.884],"nice":false,"zero":false}},"y":{"datum":7.1654,"type":"quantitative","scale":{"domain":[-3.0602,22.3534],"reverse":true,"nice":false,"zero":false}},"text":{"field":"name","type":"nominal"}}}
 ]}
 ]},
{"layer":[
  {"data":{"name":"cells"},"transform":[{"joinaggregate":[{"op":"distinct","field":"a","as":"nd"}],"groupby":["p"]},{"filter":"datum.p >= 81 && datum.nd == 1"}],
   "mark":{"type":"rect","fill":"black","xOffset":-4.65,"x2Offset":4.65,"yOffset":-6.7,"y2Offset":6.7},
   "encoding":{"x":{"field":"p","type":"quantitative","scale":{"domain":[57.253,164.286],"nice":false,"zero":false}},"x2":{"field":"p"},"y":{"field":"s","type":"quantitative","scale":{"domain":[-16.5188,8.8947],"reverse":true,"nice":false,"zero":false}},"y2":{"field":"s"}}},
  {"data":{"name":"cells"},"transform":[{"filter":"datum.p >= 81"}],
   "mark":{"type":"rect","filled":false,"stroke":"black","strokeWidth":1.2,"xOffset":-4.6,"x2Offset":4.6,"yOffset":-6.65,"y2Offset":6.65},
   "encoding":{"x":{"aggregate":"min","field":"p","type":"quantitative","scale":{"domain":[57.253,164.286],"nice":false,"zero":false}},"x2":{"aggregate":"max","field":"p"},"y":{"aggregate":"min","field":"s","type":"quantitative","scale":{"domain":[-16.5188,8.8947],"reverse":true,"nice":false,"zero":false}},"y2":{"aggregate":"max","field":"s"}}},
  {"data":{"name":"cells"},"transform":[{"joinaggregate":[{"op":"distinct","field":"a","as":"nd"}],"groupby":["p"]},{"filter":"datum.p >= 81"}],
   "mark":{"type":"text","font":"Liberation Mono","fontSize":15.2,"baseline":"middle","align":"center"},
   "encoding":{"x":{"field":"p","type":"quantitative","scale":{"domain":[57.253,164.286],"nice":false,"zero":false}},"y":{"field":"s","type":"quantitative","scale":{"domain":[-16.5188,8.8947],"reverse":true,"nice":false,"zero":false}},"text":{"field":"a"},"color":{"condition":{"test":"datum.nd == 1","value":"#cfcfcf"},"value":"#555555"}}},
  {"data":{"name":"cells"},"transform":[{"filter":"datum.s == 1 && datum.p >= 81 && datum.p % 5 != 0"}],
   "mark":{"type":"point","shape":"square","filled":true,"color":"black","opacity":1,"size":3},
   "encoding":{"x":{"field":"p","type":"quantitative","scale":{"domain":[57.253,164.286],"nice":false,"zero":false}},"y":{"datum":-1.5564,"type":"quantitative","scale":{"domain":[-16.5188,8.8947],"reverse":true,"nice":false,"zero":false}}}},
  {"data":{"name":"cells"},"transform":[{"filter":"datum.s == 1 && datum.p >= 81 && datum.p % 5 == 0"}],
   "mark":{"type":"rule","color":"black","strokeWidth":1.5},
   "encoding":{"x":{"field":"p","type":"quantitative","scale":{"domain":[57.253,164.286],"nice":false,"zero":false}},"y":{"datum":-2.2331,"type":"quantitative","scale":{"domain":[-16.5188,8.8947],"reverse":true,"nice":false,"zero":false}},"y2":{"datum":-1.4812}}},
  {"data":{"name":"cells"},"transform":[{"filter":"datum.s == 1 && datum.p >= 81 && datum.p % 10 == 0"}],
   "mark":{"type":"text","font":"Liberation Serif","fontSize":17,"baseline":"middle","align":"center","color":"black"},
   "encoding":{"x":{"field":"p","type":"quantitative","scale":{"domain":[57.253,164.286],"nice":false,"zero":false}},"y":{"datum":-3.0602,"type":"quantitative","scale":{"domain":[-16.5188,8.8947],"reverse":true,"nice":false,"zero":false}},"text":{"field":"p","type":"quantitative","format":"d"}}},
  {"data":{"name":"cells"},"transform":[{"joinaggregate":[{"op":"distinct","field":"a","as":"nd"}],"groupby":["p"]},{"filter":"datum.s == 1 && datum.p >= 81 && datum.a == 'C' && datum.nd == 1"}],
   "mark":{"type":"point","shape":"triangle-down","filled":true,"color":"black","opacity":1,"size":80},
   "encoding":{"x":{"field":"p","type":"quantitative","scale":{"domain":[57.253,164.286],"nice":false,"zero":false}},"y":{"datum":-0.5789,"type":"quantitative","scale":{"domain":[-16.5188,8.8947],"reverse":true,"nice":false,"zero":false}}}},
  {"data":{"name":"regions"},"transform":[{"filter":"datum.kind == 'frame'"}],
   "mark":{"type":"rect","filled":false,"stroke":"black","strokeWidth":2.5,"xOffset":-5.5,"x2Offset":6.5,"yOffset":-6.65},
   "encoding":{"x":{"field":"start","type":"quantitative","scale":{"domain":[57.253,164.286],"nice":false,"zero":false}},"x2":{"field":"end"},"y":{"datum":1,"type":"quantitative","scale":{"domain":[-16.5188,8.8947],"reverse":true,"nice":false,"zero":false}},"y2":{"datum":10.549}}},
  {"data":{"name":"regions"},"transform":[{"filter":"datum.kind == 'domain'"}],
   "mark":{"type":"rule","strokeWidth":3,"strokeCap":"butt","xOffset":-4.55,"x2Offset":4.55},
   "encoding":{"x":{"field":"start","type":"quantitative","scale":{"domain":[57.253,164.286],"nice":false,"zero":false}},"x2":{"field":"end"},"y":{"datum":5.5865,"type":"quantitative","scale":{"domain":[-16.5188,8.8947],"reverse":true,"nice":false,"zero":false}},"color":{"field":"name","type":"nominal","scale":{"domain":["Cysteine-rich region","WAP domain"],"range":["#000000","#e8161b"]},"legend":null}}},
  {"data":{"name":"regions"},"transform":[{"filter":"datum.name == 'Cysteine-rich region'"},{"fold":["start","end"],"as":["k","v"]}],
   "mark":{"type":"text","font":"Liberation Serif","fontSize":19,"lineHeight":18.5,"lineBreak":" ","baseline":"top","align":"center"},
   "encoding":{"x":{"aggregate":"mean","field":"v","type":"quantitative","scale":{"domain":[57.253,164.286],"nice":false,"zero":false}},"y":{"datum":5.8872,"type":"quantitative","scale":{"domain":[-16.5188,8.8947],"reverse":true,"nice":false,"zero":false}},"text":{"field":"name","type":"nominal"},"color":{"field":"name","type":"nominal","scale":{"domain":["Cysteine-rich region","WAP domain"],"range":["#000000","#e8161b"]},"legend":null}}},
  {"data":{"name":"regions"},"transform":[{"filter":"datum.name == 'WAP domain'"},{"fold":["start","end"],"as":["k","v"]}],
   "mark":{"type":"text","font":"Liberation Serif","fontSize":19,"baseline":"top","align":"center"},
   "encoding":{"x":{"aggregate":"mean","field":"v","type":"quantitative","scale":{"domain":[57.253,164.286],"nice":false,"zero":false}},"y":{"datum":5.8872,"type":"quantitative","scale":{"domain":[-16.5188,8.8947],"reverse":true,"nice":false,"zero":false}},"text":{"field":"name","type":"nominal"},"color":{"field":"name","type":"nominal","scale":{"domain":["Cysteine-rich region","WAP domain"],"range":["#000000","#e8161b"]},"legend":null}}},
  {"data":{"name":"seqs"},
   "mark":{"type":"text","font":"Liberation Serif","fontSize":17,"baseline":"middle","align":"left","color":"black"},
   "encoding":{"x":{"datum":58.681,"type":"quantitative","scale":{"domain":[57.253,164.286],"nice":false,"zero":false}},"y":{"field":"s","type":"quantitative","scale":{"domain":[-16.5188,8.8947],"reverse":true,"nice":false,"zero":false}},"text":{"field":"name"}}},
  {"data":{"name":"seqs"},"transform":[{"filter":"datum.sp == 'Lv'"}],
   "mark":{"type":"text","font":"Liberation Serif","fontSize":17,"fontStyle":"italic","baseline":"middle","align":"left","color":"black"},
   "encoding":{"x":{"datum":68.132,"type":"quantitative","scale":{"domain":[57.253,164.286],"nice":false,"zero":false}},"y":{"field":"s","type":"quantitative","scale":{"domain":[-16.5188,8.8947],"reverse":true,"nice":false,"zero":false}},"text":{"field":"sp"}}},
  {"data":{"name":"seqs"},"transform":[{"filter":"datum.sp == 'Pm7'"}],
   "mark":{"type":"text","font":"Liberation Serif","fontSize":17,"fontStyle":"italic","baseline":"middle","align":"left","color":"black"},
   "encoding":{"x":{"datum":63.835,"type":"quantitative","scale":{"domain":[57.253,164.286],"nice":false,"zero":false}},"y":{"field":"s","type":"quantitative","scale":{"domain":[-16.5188,8.8947],"reverse":true,"nice":false,"zero":false}},"text":{"field":"sp"}}},
  {"data":{"name":"seqs"},
   "mark":{"type":"text","font":"Liberation Serif","fontSize":17,"baseline":"middle","align":"right","color":"black"},
   "encoding":{"x":{"datum":79.89,"type":"quantitative","scale":{"domain":[57.253,164.286],"nice":false,"zero":false}},"y":{"field":"s","type":"quantitative","scale":{"domain":[-16.5188,8.8947],"reverse":true,"nice":false,"zero":false}},"text":{"field":"acc"}}}
]}
]
}
